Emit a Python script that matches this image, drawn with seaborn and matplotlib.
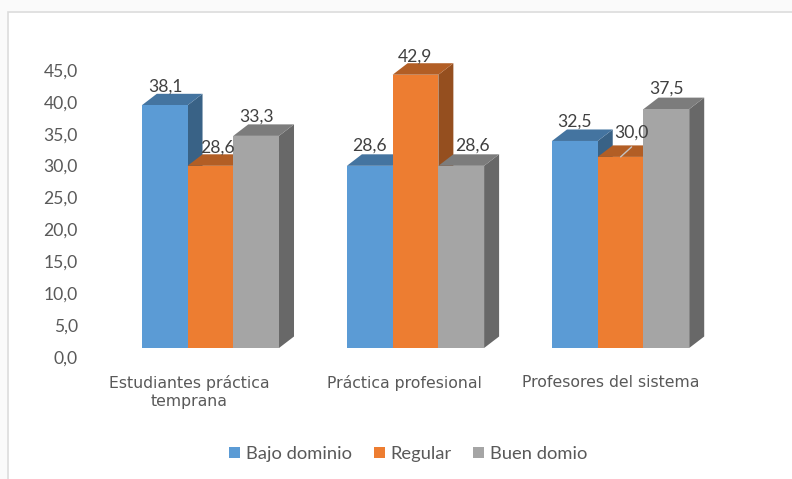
import pandas as pd
import seaborn as sns
import matplotlib.pyplot as plt
from matplotlib.colors import to_rgb
from matplotlib.lines import Line2D
from matplotlib.patches import Polygon
from matplotlib.transforms import Affine2D

categorias = ["Estudiantes práctica\ntemprana", "Práctica profesional", "Profesores del sistema"]
bajo_dominio = [38.1, 28.6, 32.5]
regular = [28.6, 42.9, 30.0]
buen_domio = [33.3, 28.6, 37.5]
series = ["Bajo dominio", "Regular", "Buen domio"]
colores = ["#5B9BD5", "#ED7D31", "#A5A5A5"]
ticks = [0, 5, 10, 15, 20, 25, 30, 35, 40, 45]

df = pd.DataFrame({
    "categoria": categorias * 3,
    "serie": [s for s in series for _ in categorias],
    "valor": bajo_dominio + regular + buen_domio,
})

sns.set_theme(style="white")
plt.rcParams["font.family"] = "Lato"

W, H = 792, 479
fig = plt.figure(figsize=(W / 100, H / 100), dpi=100)
fig.patch.set_facecolor("#fafafa")
px = Affine2D().scale(1 / W, -1 / H).translate(0, 1) + fig.transFigure


def ejes(x0, x1, y_base, zorder):
    # ejes a partir de pixeles de la imagen, misma escala vertical en todos
    y_top = y_base - 45 * 6.37
    a = fig.add_axes([x0 / W, 1 - y_base / H, (x1 - x0) / W, (y_base - y_top) / H], zorder=zorder)
    a.patch.set_visible(False)
    a.set_ylim(0, 45)
    sns.despine(ax=a, left=True, bottom=True)
    return a


# fondo blanco con el marco del grafico (abierto a la derecha y abajo)
fig.patches.append(Polygon([(8, 12), (W + 5, 12), (W + 5, H + 5), (8, H + 5)], closed=True, transform=px,
                           facecolor="white", edgecolor="#dcdcdc", lw=1.2, figure=fig))

# pared del fondo con las lineas de division
pared = ejes(134, 752, 327.3, 1)
pared.set_xlim(0, 1)
pared.set_yticks(ticks)
pared.set_xticks([])
pared.tick_params(labelleft=False, length=0)
pared.grid(axis="y", color="#dadada", lw=1.7)
pared.set_axisbelow(True)
for t in ticks:
    y_frente = 356.7 - t * 6.37
    pared.add_line(Line2D([96, 134], [y_frente, y_frente - 29.4], transform=px,
                          color="#d9d9d9", lw=1.7, clip_on=False))

# plano de frente: etiquetas de los ejes
frente = ejes(83.5, 716.5, 356.7, 2)
frente.set_xlim(-0.5, 2.5)
frente.set_xticks([0, 1.02, 2])
frente.set_xticklabels(categorias, fontsize=11.3, color="#595959", family="DejaVu Sans", linespacing=1.25)
frente.set_yticks(ticks)
frente.set_yticklabels([f"{t:.1f}".replace(".", ",") for t in ticks], fontsize=12.6, color="#595959")
frente.tick_params(axis="y", length=0, pad=4)
frente.tick_params(axis="x", length=0, pad=13)

# barras
ax = ejes(107.85, 723.15, 348, 3)
sns.barplot(data=df, x="categoria", y="valor", hue="serie", hue_order=series,
            order=categorias, palette=colores, width=0.669, gap=0, saturation=1,
            linewidth=0, ax=ax)
ax.set_xlim(-0.5, 2.5)
ax.set_ylim(0, 45)
ax.set_xlabel("")
ax.set_ylabel("")
ax.set_xticks([])
ax.set_yticks([])

dx = 15 / 205.1
dy = 11.5 / 6.37
# seaborn deja parches vacios para la leyenda, se quedan fuera
barras = sorted([b for b in ax.patches if b.get_height() > 0], key=lambda b: b.get_x())
for i, b in enumerate(barras):
    x0, w, h = b.get_x(), b.get_width(), b.get_height()
    x1 = x0 + w
    rgb = to_rgb(b.get_facecolor()[:3])
    z = 5 + i * 3
    # cara lateral y tapa
    lado = [(x1, 0), (x1 + dx, dy), (x1 + dx, h + dy), (x1, h)]
    tapa = [(x0, h), (x1, h), (x1 + dx, h + dy), (x0 + dx, h + dy)]
    ax.add_patch(Polygon(lado, closed=True, facecolor=[c * 0.63 for c in rgb], lw=0, zorder=z, clip_on=False))
    ax.add_patch(Polygon(tapa, closed=True, facecolor=[c * 0.75 for c in rgb], lw=0, zorder=z + 1, clip_on=False))
    b.set_zorder(z + 2)
    b.set_clip_on(False)

# ajustes de las etiquetas en pixeles
ajustes = [(1, 19), (7, 18), (0, 19),
           (0, 20), (0, 18), (11, 20),
           (0, 19), (11, 24), (0, 20)]
for b, (ox, oy) in zip(barras, ajustes):
    h = b.get_height()
    ax.annotate(f"{h:.1f}".replace(".", ","), (b.get_x() + b.get_width() / 2, h),
                xytext=(ox * 0.72, oy * 0.72), textcoords="offset points",
                ha="center", va="center", fontsize=12.6, color="#404040", zorder=60)

# linea guia de la etiqueta 30,0
guia = barras[7]
ax.annotate("", (guia.get_x() + guia.get_width() / 2, guia.get_height()),
            xytext=(11 * 0.72, 10 * 0.72), textcoords="offset points",
            arrowprops=dict(arrowstyle="-", color="#c4c4c4", lw=1, shrinkA=0, shrinkB=0), zorder=60)

sns.move_legend(ax, "center", bbox_to_anchor=(408, 454), bbox_transform=px, ncol=3,
                frameon=False, title=None, fontsize=13.2, handlelength=0.6, handleheight=0.6,
                handletextpad=0.3, columnspacing=1.2, labelcolor="#595959")

fig.savefig("out.png", dpi=100, facecolor=fig.get_facecolor())
